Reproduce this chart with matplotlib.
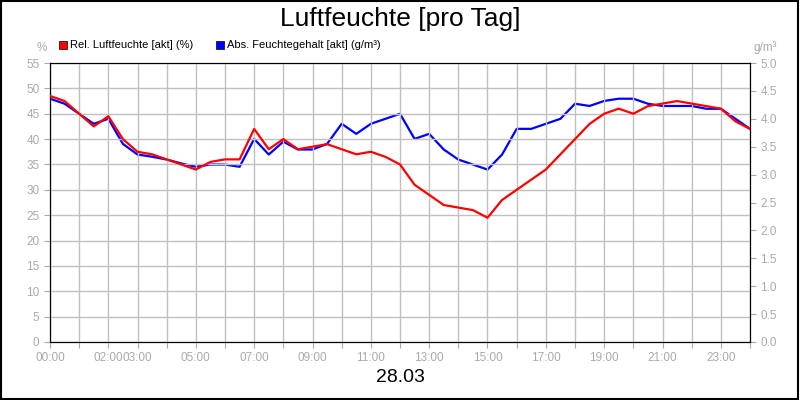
import matplotlib
matplotlib.use("Agg")
import matplotlib.pyplot as plt
from matplotlib.patches import Rectangle
plt.rcParams['font.family'] = ['Liberation Sans', 'DejaVu Sans']

hours = [i*0.5 for i in range(49)]
rel = [48.5,47.5,45,42.5,44.5,40,37.5,37,36,35,34,35.5,36,36,42,38,40,38,38.5,39,38,37,37.5,36.5,
       35,31,29,27,26.5,26,24.5,28,30,32,34,37,40,43,45,46,45,46.5,47,47.5,47,46.5,46,43.5,42]
absf = [4.36,4.27,4.09,3.91,4.0,3.55,3.36,3.32,3.27,3.2,3.14,3.18,3.18,3.14,3.64,3.36,3.59,3.45,3.45,3.55,
        3.91,3.73,3.91,4.0,4.09,3.64,3.73,3.45,3.27,3.18,3.09,3.36,3.82,3.82,3.91,4.0,4.27,4.23,4.32,4.36,
        4.36,4.27,4.23,4.23,4.23,4.18,4.18,4.0,3.82]
xlabels = ["00:00","02:00","03:00","05:00","07:00","09:00","11:00","13:00","15:00","17:00","19:00","21:00","23:00"]
xlabel_pos = [0,2,3,5,7,9,11,13,15,17,19,21,23]

fig = plt.figure(figsize=(8,4), dpi=100)
fig.patches.append(Rectangle((0.001,0.002),0.997,0.996, transform=fig.transFigure, fill=False, ec='black', lw=1.5))
ax = fig.add_axes([50/800, 1-342/400, 700/800, 279/400])
ax2 = ax.twinx()
ax.plot(hours, rel, color='#ff0000', lw=1.6, zorder=3)
ax2.plot(hours, absf, color='#0000ff', lw=1.6, zorder=2)
ax.set_zorder(ax2.get_zorder()+1); ax.patch.set_visible(False)
ax.set_xlim(0,24); ax.set_ylim(0,55); ax2.set_ylim(0,5.0)
ax.set_xticks(range(25)); ax.set_xticklabels([xlabels[xlabel_pos.index(h)] if h in xlabel_pos else "" for h in range(25)])
ax.set_yticks(range(0,56,5)); ax2.set_yticks([i*0.5 for i in range(11)])
ax2.set_yticklabels([f"{i*0.5:.1f}" for i in range(11)])
ax.grid(True, color='#c0c0c0', lw=1)
for a in (ax, ax2):
    a.tick_params(colors='#aaaaaa', labelsize=8.5, length=4)
    for s in a.spines.values(): s.set_color('black')
fig.text(0.5, 0.952, "Luftfeuchte [pro Tag]", ha='center', va='center', fontsize=19)
fig.text(0.5, 0.055, "28.03", ha='center', va='center', fontsize=14)
fig.text(42/800, 1-48/400, "%", ha='center', va='center', fontsize=8.5, color='#aaaaaa')
fig.text(765/800, 1-48/400, "g/m³", ha='center', va='center', fontsize=8.5, color='#aaaaaa')
fig.patches.append(Rectangle((59/800,1-49/400),8/800,8/400, transform=fig.transFigure, fc='red', ec='black', lw=0.5))
fig.text(70/800, 1-45/400, "Rel. Luftfeuchte [akt] (%)", va='center', fontsize=8)
fig.patches.append(Rectangle((216/800,1-49/400),8/800,8/400, transform=fig.transFigure, fc='blue', ec='black', lw=0.5))
fig.text(227/800, 1-45/400, "Abs. Feuchtegehalt [akt] (g/m³)", va='center', fontsize=8)
fig.savefig("out.png", dpi=100)
